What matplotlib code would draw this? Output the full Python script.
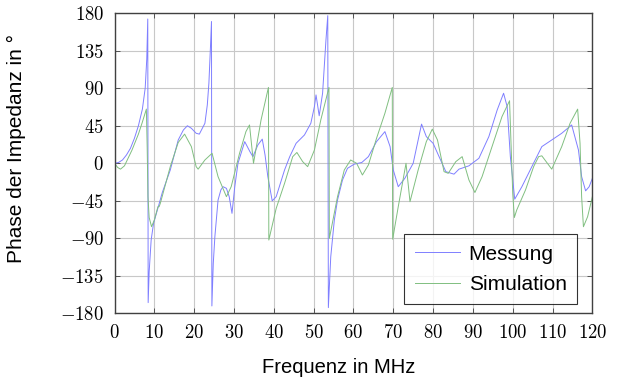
import matplotlib
matplotlib.use("Agg")
import matplotlib.pyplot as plt
from matplotlib.ticker import FuncFormatter

plt.rcParams["mathtext.fontset"] = "cm"
plt.rcParams["font.family"] = ["Liberation Sans", "DejaVu Sans"]

# =========================
# Data
# =========================
mess_x = [0, 1, 2, 3, 4, 5, 6, 7, 7.7, 8.1, 8.35, 8.45, 8.7, 9.2, 9.8, 11, 12, 14,
          16, 17.3, 18.3, 19.3, 20.5, 21.3, 22.7, 23.3, 23.7, 24.1, 24.35, 24.45,
          24.8, 25.2, 26, 26.7, 27.25, 28.1, 28.8, 29.5, 30.2, 31, 32.7, 34.0,
          34.75, 36, 37.1, 37.8, 38.5, 39.6, 40.6, 42.7, 44, 45.6, 47.7, 49.3,
          50.2, 50.6, 51.4, 52.25, 53.1, 53.55, 53.7, 54.3, 55.2, 56, 57.25, 58.5,
          60.2, 62.1, 63.75, 65.8, 67.9, 69.2, 70, 71.25, 72.9, 75, 76.25, 77.1,
          78.3, 80, 81.5, 83.2, 85.25, 86.5, 89, 91.5, 94, 96.1, 97.7, 98.6, 99.4,
          100.5, 102.3, 104.8, 107.3, 109.8, 112.3, 114.8, 116.5, 117.3, 118.3,
          119.2, 120]
mess_y = [0, 1, 4, 10, 18, 30, 45, 65, 90, 125, 173, -167, -130, -92, -72, -52, -35, -8,
          28, 40, 45, 42, 36, 35, 48, 70, 96, 140, 170, -171,
          -120, -88, -44, -32, -28, -30, -40, -60, -28, 0, 26, 14,
          8, 22, 29, 10, -16, -45, -40, -8, 8, 24, 34, 48,
          68, 82, 57, 84, 148, 177, -173, -112, -68, -44, -20, -6,
          -1, 1, 8, 26, 38, 20, -8, -28, -18, 0, 28, 47,
          32, 24, 8, -10, -13, -7, -3, 6, 32, 64, 84, 68, 8,
          -43, -28, -4, 20, 28, 36, 46, 16, -16, -33,
          -28, -18]

sim_x = [0, 0.8, 1.5, 2.5, 4.4, 6, 6.9, 8.0, 8.2, 8.4, 8.7, 9.3, 10.0, 10.9, 11.2,
         11.5, 14, 16, 17.6, 19.3, 20.5, 21, 22.7, 24.5, 26, 28.1, 29.3, 31.4,
         33.0, 33.9, 34.9, 36.8, 38.65, 38.75, 40.6, 42.7, 44.75, 45.8, 47.25,
         48.5, 50.2, 51.8, 53.85, 53.95, 56, 57.7, 59.3, 60.8, 62.25, 63.75, 65.8,
         67.9, 69.75, 69.85, 71.25, 73.2, 74.2, 76.25, 78.3, 79.8, 81.1, 82.75,
         83.8, 85.7, 87.3, 89, 90.5, 92.3, 94.8, 97.3, 99.2, 100.0, 100.4, 101,
         103.2, 105.25, 106.5, 107.3, 109.8, 112.3, 114.4, 116.3, 116.9, 117.3,
         117.75, 118.8, 120]
sim_y = [0, -5, -7, -3, 16, 35, 48, 65, 20, -40, -65, -76, -68, -52, -52,
         -48, -4, 25, 35, 20, -4, -7, 4, 12, -16, -40, -28, 12,
         38, 46, 0, 52, 91, -92, -54, -24, 8, 13, 2,
         -4, 16, 52, 91, -90, -40, -8, 4, 0, -14, -2, 30,
         60, 91, -91, -52, 0, -46, -8, 26, 41, 28, -10,
         -12, 2, 8, -20, -35, -16, 20, 56, 75, -36, -65, -56,
         -32, -4, 8, 9, -7, 20, 48, 65, 24, -40,
         -76, -64, -40]

x_ticks = list(range(0, 121, 10))
y_ticks = list(range(-180, 181, 45))

# =========================
# Plot
# =========================
fig = plt.figure(figsize=(6.19, 3.87), dpi=100)
ax = fig.add_axes([0.185, 0.19, 0.772, 0.776])

ax.plot(mess_x, mess_y, color="#7f7fff", lw=0.7, label="Messung")
ax.plot(sim_x, sim_y, color="#80bf80", lw=0.7, label="Simulation")

ax.set_xlim(0, 120)
ax.set_ylim(-180, 180)
ax.set_xticks(x_ticks)
ax.set_yticks(y_ticks)
fmt = FuncFormatter(lambda v, pos: f"${v:g}$")
ax.xaxis.set_major_formatter(fmt)
ax.yaxis.set_major_formatter(fmt)
ax.tick_params(direction="in", length=3.5, width=0.6, top=True, right=True,
               labelsize=13.5, color="#404040", pad=7.5)
ax.grid(True, color="#c8c8c8", lw=0.8)
ax.set_axisbelow(True)
for sp in ax.spines.values():
    sp.set_color("#404040")
    sp.set_linewidth(1.0)

ax.set_xlabel("Frequenz in MHz", fontsize=14.5)
ax.set_ylabel("Phase der Impedanz in °", fontsize=15)
ax.xaxis.set_label_coords(0.47, -0.148)
ax.yaxis.set_label_coords(-0.185, 0.55)

leg = ax.legend(loc="lower right", bbox_to_anchor=(0.968, 0.03), fontsize=15,
                frameon=True, fancybox=False, edgecolor="black",
                handlelength=2.2, handletextpad=0.4, borderpad=0.5,
                labelspacing=0.55, borderaxespad=0)
leg.get_frame().set_linewidth(0.8)

fig.savefig("out.png", dpi=100)
